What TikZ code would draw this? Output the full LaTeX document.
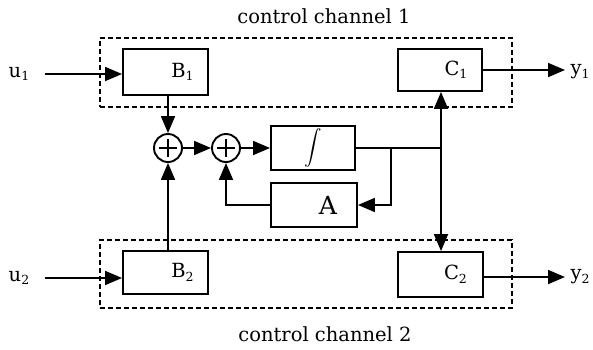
\documentclass[tikz,border=0pt]{standalone}
\usepackage{fontspec}
\setmainfont{DejaVu Serif}
\usetikzlibrary{arrows.meta}
\newcommand\lowsub[1]{\raisebox{-3.5pt}{\fontsize{12.5}{13}\selectfont #1}}
\tikzset{
  blk/.style={draw, line width=1.9pt, rectangle, inner sep=0pt},
  frame/.style={draw, line width=1.4pt, dash pattern=on 5pt off 3pt, rectangle, inner sep=0pt},
  summ/.style={draw, line width=1.9pt, circle, minimum size=28pt, inner sep=0pt,
    path picture={\draw[line width=2pt] ([xshift=-9pt]path picture bounding box.center) -- ([xshift=9pt]path picture bounding box.center)
      ([yshift=-9pt]path picture bounding box.center) -- ([yshift=9pt]path picture bounding box.center);}},
  conn/.style={line width=1.8pt},
  arr/.style={conn, -{Triangle[length=17pt,width=14pt]}},
  txt/.style={font=\fontsize{19.5}{22}\selectfont, inner sep=0pt},
  lbl/.style={font=\fontsize{19.5}{22}\selectfont, inner sep=0pt}
}
\begin{document}
\begin{tikzpicture}[x=1pt, y=-1pt]
\useasboundingbox (0,0) rectangle (593,349);

% channel frames and their captions
\node[frame, minimum width=412pt, minimum height=69pt] (ch1) at (306,72.5) {};
\node[frame, minimum width=412pt, minimum height=68pt] (ch2) at (306,274) {};
\node[txt] (cap1) at (324,16) {control channel 1};
\node[txt] (cap2) at (325,334) {control channel 2};

% blocks
\node[blk, minimum width=85pt, minimum height=46pt,
  label={[lbl, xshift=17pt]center:B\lowsub{1}}] (B1) at (165.5,72) {};
\node[blk, minimum width=85pt, minimum height=43pt,
  label={[lbl, xshift=17pt]center:B\lowsub{2}}] (B2) at (165.5,272.5) {};
\node[blk, minimum width=84pt, minimum height=42pt,
  label={[lbl, xshift=16pt]center:C\lowsub{1}}] (C1) at (440,70) {};
\node[blk, minimum width=85pt, minimum height=45pt,
  label={[lbl, xshift=15pt]center:C\lowsub{2}}] (C2) at (440.5,274.5) {};
\node[blk, minimum width=84pt, minimum height=44pt,
  label={[inner sep=0pt]center:\scalebox{1.75}{$\displaystyle\int$}}] (int) at (313,148) {};
\node[blk, minimum width=86pt, minimum height=44pt,
  label={[lbl, font=\fontsize{25}{27}\selectfont, xshift=14pt]center:A}] (A) at (314,205) {};

% summing junctions
\node[summ] (s1) at (168,148) {};
\node[summ] (s2) at (226,148) {};

% external signals
\coordinate (u1in) at (45,74);
\coordinate (u2in) at (45,278);
\coordinate (y1out) at (565,70);
\coordinate (y2out) at (565,277);
\node[txt] (u1) at (19,74) {u\lowsub{1}};
\node[txt] (u2) at (19,278) {u\lowsub{2}};
\node[txt] (y1) at (580,72) {y\lowsub{1}};
\node[txt] (y2) at (580,277) {y\lowsub{2}};

% branch points on the integrator output
\coordinate (tap) at (391,148);
\coordinate (junc) at (441,148);

% connectors
\draw[arr] (u1in) -- (u1in -| B1.west);
\draw[arr] (u2in) -- (u2in -| B2.west);
\draw[arr] (B1.south -| s1) -- (s1.north);
\draw[arr] (B2.north -| s1) -- (s1.south);
\draw[arr] (s1.east) -- (s2.west);
\draw[arr] (s2.east) -- (int.west);
\draw[conn] (int.east) -- (junc);
\draw[arr] (junc) -- (junc |- C1.south);
\draw[arr] (junc) -- (junc |- C2.north);
\draw[arr] (tap) |- (A.east);
\draw[arr] (A.west) -| (s2.south);
\draw[arr] (C1.east) -- (y1out);
\draw[arr] (y2out -| C2.east) -- (y2out);
\end{tikzpicture}
\end{document}
